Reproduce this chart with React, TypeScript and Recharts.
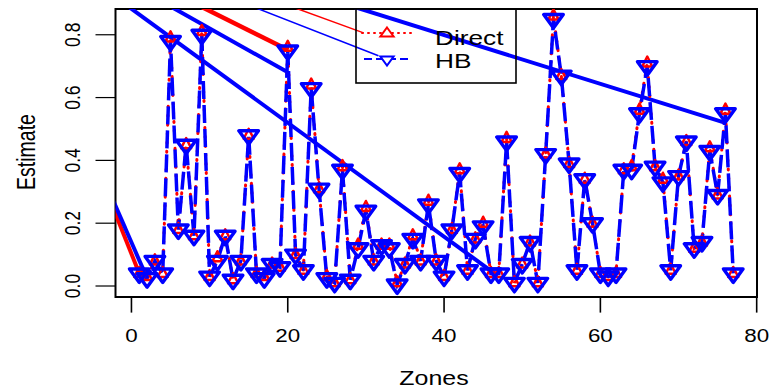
import { ComposedChart, Line, XAxis, YAxis, ReferenceArea } from 'recharts'

const zones = [
  1, 2, 3, 4, 5, 6, 7, 8, 9, 10, 11, 12, 13, 14, 15, 16, 17, 18, 19, 20,
  21, 22, 23, 24, 25, 26, 27, 28, 29, 30, 31, 32, 33, 34, 35, 36, 37, 38, 39, 40,
  41, 42, 43, 44, 45, 46, 47, 48, 49, 50, 51, 52, 53, 54, 55, 56, 57, 58, 59, 60,
  61, 62, 63, 64, 65, 66, 67, 68, 69, 70, 71, 72, 73, 74, 75, 76, 77,
]

const directValues = [
  0.04, 0.03, 0.08, 0.04, 0.79, 0.18, 0.45, 0.16, 0.81, 0.03,
  0.09, 0.16, 0.02, 0.08, 0.48, 0.04, 0.03, 0.07, 0.06, 0.76,
  0.1, 0.05, 0.64, 0.31, 0.03, 0.01, 0.38, 0.02, 0.13, 0.25,
  0.08, 0.13, 0.13, 0.01, 0.07, 0.16, 0.08, 0.27, 0.08, 0.03,
  0.18, 0.37, 0.05, 0.15, 0.2, 0.04, 0.04, 0.47, 0.01, 0.07,
  0.14, 0.01, 0.42, 0.86, 0.67, 0.39, 0.05, 0.34, 0.2, 0.04,
  0.03, 0.04, 0.37, 0.38, 0.56, 0.71, 0.38, 0.34, 0.05, 0.35,
  0.46, 0.12, 0.14, 0.44, 0.29, 0.56, 0.04,
]

const hbValues = [
  0.04, 0.025, 0.08, 0.04, 0.78, 0.18, 0.45, 0.16, 0.8, 0.03,
  0.08, 0.16, 0.02, 0.08, 0.48, 0.04, 0.025, 0.07, 0.06, 0.75,
  0.1, 0.05, 0.63, 0.31, 0.025, 0.01, 0.37, 0.02, 0.12, 0.24,
  0.08, 0.13, 0.12, 0.005, 0.07, 0.15, 0.08, 0.26, 0.08, 0.03,
  0.18, 0.36, 0.05, 0.15, 0.19, 0.04, 0.04, 0.46, 0.01, 0.07,
  0.14, 0.01, 0.42, 0.85, 0.67, 0.39, 0.05, 0.34, 0.2, 0.04,
  0.03, 0.04, 0.37, 0.37, 0.55, 0.7, 0.38, 0.33, 0.05, 0.35,
  0.46, 0.12, 0.14, 0.43, 0.29, 0.55, 0.04,
]

// stray straight segments in the original plot (zone, value end points)
const redThickLow = [{ zone: -3, value: 0.29 }, { zone: 1, value: 0.04 }]
const blueThickLow = [{ zone: -3, value: 0.31 }, { zone: 2, value: 0.025 }]
const redThickHigh = [{ zone: 5, value: 0.938 }, { zone: 20, value: 0.752 }]
const blueThickShort = [{ zone: 3, value: 0.918 }, { zone: 19.9, value: 0.682 }]
const blueThickLong = [{ zone: -3, value: 0.937 }, { zone: 46.4, value: 0.041 }]
const blueThickRight = [{ zone: 26, value: 0.908 }, { zone: 75.9, value: 0.52 }]
const redThin = [{ zone: 18, value: 0.912 }, { zone: 29.7, value: 0.806 }]
const blueThin = [{ zone: 13, value: 0.914 }, { zone: 31.6, value: 0.733 }]

const xTicks = [0, 20, 40, 60, 80]
const yTicks = [0, 0.2, 0.4, 0.6, 0.8]
const xDomain: [number, number] = [-2.04, 80.04]
const yDomain: [number, number] = [-0.035, 0.882]

const RED = '#FF0000'
const BLUE = '#0000FF'
const FONT = '"Liberation Sans", Arial, Helvetica, sans-serif'
const SX = 1.28 // the source image is stretched sideways

const data = zones.map((zone, i) => ({ zone, direct: directValues[i], hb: hbValues[i] }))

function SText({ x, y, size, anchor = 'start', rotate = false, children }: any) {
  const t = `translate(${x},${y}) scale(${SX},1)` + (rotate ? ' rotate(-90)' : '')
  return (
    <text transform={t} fontSize={size} textAnchor={anchor} fontFamily={FONT} fill="#000">
      {children}
    </text>
  )
}

const upTri = (cx: number, cy: number, hw: number, top: number, bot: number) =>
  `M${cx},${cy - top}L${cx + hw},${cy + bot}L${cx - hw},${cy + bot}Z`
const downTri = (cx: number, cy: number, hw: number, top: number, bot: number) =>
  `M${cx - hw},${cy - top}L${cx + hw},${cy - top}L${cx},${cy + bot}Z`

function DirectDot(props: any) {
  const { cx, cy, index } = props
  if (cx == null || cy == null) return <g key={`d-${index}`} />
  return (
    <path key={`d-${index}`} d={upTri(cx, cy, 5, 6.5, 3.5)} fill="none" stroke={RED}
      strokeWidth={2.5} strokeLinejoin="round" />
  )
}

function HBDot(props: any) {
  const { cx, cy, index } = props
  if (cx == null || cy == null) return <g key={`h-${index}`} />
  return (
    <path key={`h-${index}`} d={downTri(cx, cy, 9.8, 4.5, 9)} fill="none" stroke={BLUE}
      strokeWidth={3.4} strokeLinejoin="round" />
  )
}

function XTick(props: any) {
  const { x, payload } = props
  return <SText x={x} y={342} size={17.5} anchor="middle">{payload.value}</SText>
}

function YTick(props: any) {
  const { y, payload } = props
  return <SText x={80} y={y} size={17.5} anchor="middle" rotate>{Number(payload.value).toFixed(1)}</SText>
}

function Segment({ pts, color, width }: any) {
  return (
    <Line data={pts} dataKey="value" stroke={color} strokeWidth={width} dot={false}
      activeDot={false} isAnimationActive={false} legendType="none" />
  )
}

export default function App() {
  return (
    <div style={{ position: 'absolute', left: 0, top: 0, width: 771, height: 392, background: '#fff' }}>
      <ComposedChart width={771} height={392} data={data} margin={{ top: 9, right: 14, bottom: 0, left: 0 }}>
        <XAxis dataKey="zone" type="number" domain={xDomain} ticks={xTicks} allowDataOverflow
          axisLine={false} tickLine={{ stroke: '#000', strokeWidth: 1.6 }} tickSize={15.6}
          height={95} interval={0} tick={XTick} />
        <YAxis type="number" domain={yDomain} ticks={yTicks} allowDataOverflow
          axisLine={false} tickLine={{ stroke: '#000', strokeWidth: 1.2 }} tickSize={20}
          width={115.5} interval={0} tick={YTick} />
        {Segment({ pts: redThickLow, color: RED, width: 4 })}
        {Segment({ pts: blueThickLow, color: BLUE, width: 4 })}
        {Segment({ pts: redThickHigh, color: RED, width: 4.5 })}
        {Segment({ pts: blueThickShort, color: BLUE, width: 4 })}
        {Segment({ pts: blueThickLong, color: BLUE, width: 4 })}
        {Segment({ pts: blueThickRight, color: BLUE, width: 4 })}
        {Segment({ pts: redThin, color: RED, width: 1.5 })}
        {Segment({ pts: blueThin, color: BLUE, width: 1.5 })}
        <Line dataKey="direct" stroke={RED} strokeWidth={3} strokeDasharray="1 8" strokeLinecap="round"
          dot={DirectDot} activeDot={false} isAnimationActive={false} />
        <Line dataKey="hb" stroke={BLUE} strokeWidth={3.5} strokeDasharray="18 6"
          dot={HBDot} activeDot={false} isAnimationActive={false} />
        <ReferenceArea x1={xDomain[0]} x2={xDomain[1]} y1={yDomain[0]} y2={yDomain[1]}
          fill="none" stroke="#000" strokeWidth={2} ifOverflow="visible" />
      </ComposedChart>
      <svg width={771} height={392} style={{ position: 'absolute', left: 0, top: 0, pointerEvents: 'none' }}>
        <rect x={356} y={9} width={160} height={74} fill="none" stroke="#000" strokeWidth={1.6} />
        <line x1={362} x2={411} y1={33} y2={33} stroke={RED} strokeWidth={2} strokeDasharray="1 5" strokeLinecap="round" />
        <path d={upTri(387, 33.5, 6.6, 6, 3)} fill="#fff" stroke={RED} strokeWidth={2} />
        <line x1={364} x2={410} y1={59} y2={59} stroke={BLUE} strokeWidth={2} strokeDasharray="8 4" />
        <path d={downTri(387, 59.5, 6.6, 3, 6)} fill="#fff" stroke={BLUE} strokeWidth={2} />
        <SText x={435} y={45} size={20.5}>Direct</SText>
        <SText x={435} y={68} size={20.5}>HB</SText>
        <SText x={434} y={385} size={19.5} anchor="middle">Zones</SText>
        <SText x={35} y={152} size={19.5} anchor="middle" rotate>Estimate</SText>
      </svg>
    </div>
  )
}
